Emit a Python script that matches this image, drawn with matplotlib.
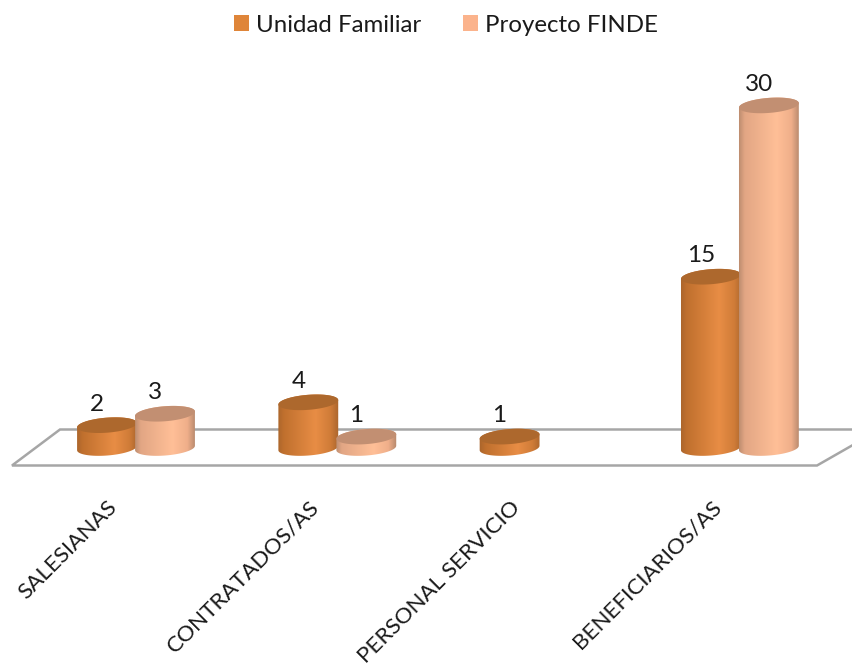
import numpy as np
import matplotlib
matplotlib.use("Agg")
import matplotlib.pyplot as plt
from matplotlib.colors import LinearSegmentedColormap
from matplotlib.patches import Patch, PathPatch, Polygon
from matplotlib.path import Path
from matplotlib.transforms import Affine2D

categories = ["SALESIANAS", "CONTRATADOS/AS", "PERSONAL SERVICIO", "BENEFICIARIOS/AS"]
unidad_familiar = [2, 4, 1, 15]
proyecto_finde = [3, 1, 0, 30]
series_names = ["Unidad Familiar", "Proyecto FINDE"]

W, H = 853, 670
PX_X, PX_Y = 201.3, 11.42      # pixels per category / per unit
X0, Y0 = 136.0, 448.0          # pixel position of the origin
BAR_W = 58 / PX_X
A, B, TILT = 30.0, 7.5, np.radians(4.5)

plt.rcParams["font.family"] = ["Lato", "DejaVu Sans"]
fig = plt.figure(figsize=(W / 100, H / 100), dpi=100)
ax = fig.add_axes([0, 0, 1, 1])
ax.set_xlim(-X0 / PX_X, (W - X0) / PX_X)
ax.set_ylim(-(H - Y0) / PX_Y, Y0 / PX_Y)
ax.axis("off")

# floor, in pixel coordinates
px = Affine2D().scale(1, -1).translate(0, H)
floor = Polygon([(12, 465.5), (60, 429.5), (880, 429.5), (817, 465.5)], closed=True,
                facecolor="white", edgecolor="#A6A6A6", lw=1.8, transform=px, zorder=1)
ax.add_patch(floor)


def ellipse(cx, v, t):
    """Tilted ellipse outline centred on the data point (cx, v)."""
    dx = A * np.cos(t) * np.cos(TILT) - B * np.sin(t) * np.sin(TILT)
    dy = A * np.cos(t) * np.sin(TILT) + B * np.sin(t) * np.cos(TILT)
    return np.column_stack([cx + dx / PX_X, v + dy / PX_Y])


def cylinder(cx, v, stops, top_color, z):
    cmap = LinearSegmentedColormap.from_list("c", stops)
    t0 = np.arctan2(-B * np.sin(TILT), A * np.cos(TILT))
    lower = ellipse(cx, 0, np.linspace(np.pi + t0, 2 * np.pi + t0, 60))
    upper = ellipse(cx, v, np.linspace(t0, np.pi + t0, 60))
    verts = np.vstack([lower, upper, lower[:1]])
    clip = PathPatch(Path(verts), facecolor="none", edgecolor="none", transform=ax.transData)
    ax.add_patch(clip)
    half = BAR_W / 2 + 3 / PX_X
    grad = np.linspace(0, 1, 256).reshape(1, -1)
    im = ax.imshow(grad, cmap=cmap, aspect="auto", interpolation="bilinear", zorder=z,
                   extent=[cx - half, cx + half, -4, v + 4])
    im.set_clip_path(clip)
    top = Polygon(ellipse(cx, v, np.linspace(0, 2 * np.pi, 120)), closed=True,
                  facecolor=top_color, edgecolor="none", zorder=z + 0.1)
    ax.add_patch(top)


orange = [(0, "#A5622B"), (0.12, "#C0702E"), (0.62, "#E88D45"), (0.85, "#D07C38"), (1, "#A5622B")]
peach = [(0, "#B08468"), (0.12, "#E2A684"), (0.62, "#FFBF97"), (0.85, "#F0AF8A"), (1, "#AD8268")]
styles = [(orange, "#AD682D"), (peach, "#C28F72")]
offsets = [-29 / PX_X, 29 / PX_X]
all_series = [unidad_familiar, proyecto_finde]

for s, values in enumerate(all_series):
    stops, top = styles[s]
    for i, v in enumerate(values):
        if v == 0:
            continue
        cx = i + offsets[s]
        cylinder(cx, v, stops, top, 3 + s + i * 0.01)
        ax.annotate(str(v), xy=(cx, v), xytext=(-10, 21), textcoords="offset pixels",
                    ha="center", va="center", fontsize=17.5, color="#1A1A1A", zorder=10)

for i, name in enumerate(categories):
    ax.annotate(name, xy=(i, 0), xytext=(-29, -49), textcoords="offset pixels",
                ha="right", va="top", rotation=45, rotation_mode="anchor",
                fontsize=16.2, color="#1A1A1A")

handles = [Patch(facecolor="#DF8539", edgecolor="none"), Patch(facecolor="#FBB38C", edgecolor="none")]
fig.legend(handles, series_names, loc="center", bbox_to_anchor=(446 / W, 1 - 25 / H), ncol=2,
           frameon=False, fontsize=17.3, handlelength=0.63, handleheight=0.63,
           handletextpad=0.29, columnspacing=1.75, labelcolor="#1A1A1A")

fig.savefig("out.png", dpi=100)
